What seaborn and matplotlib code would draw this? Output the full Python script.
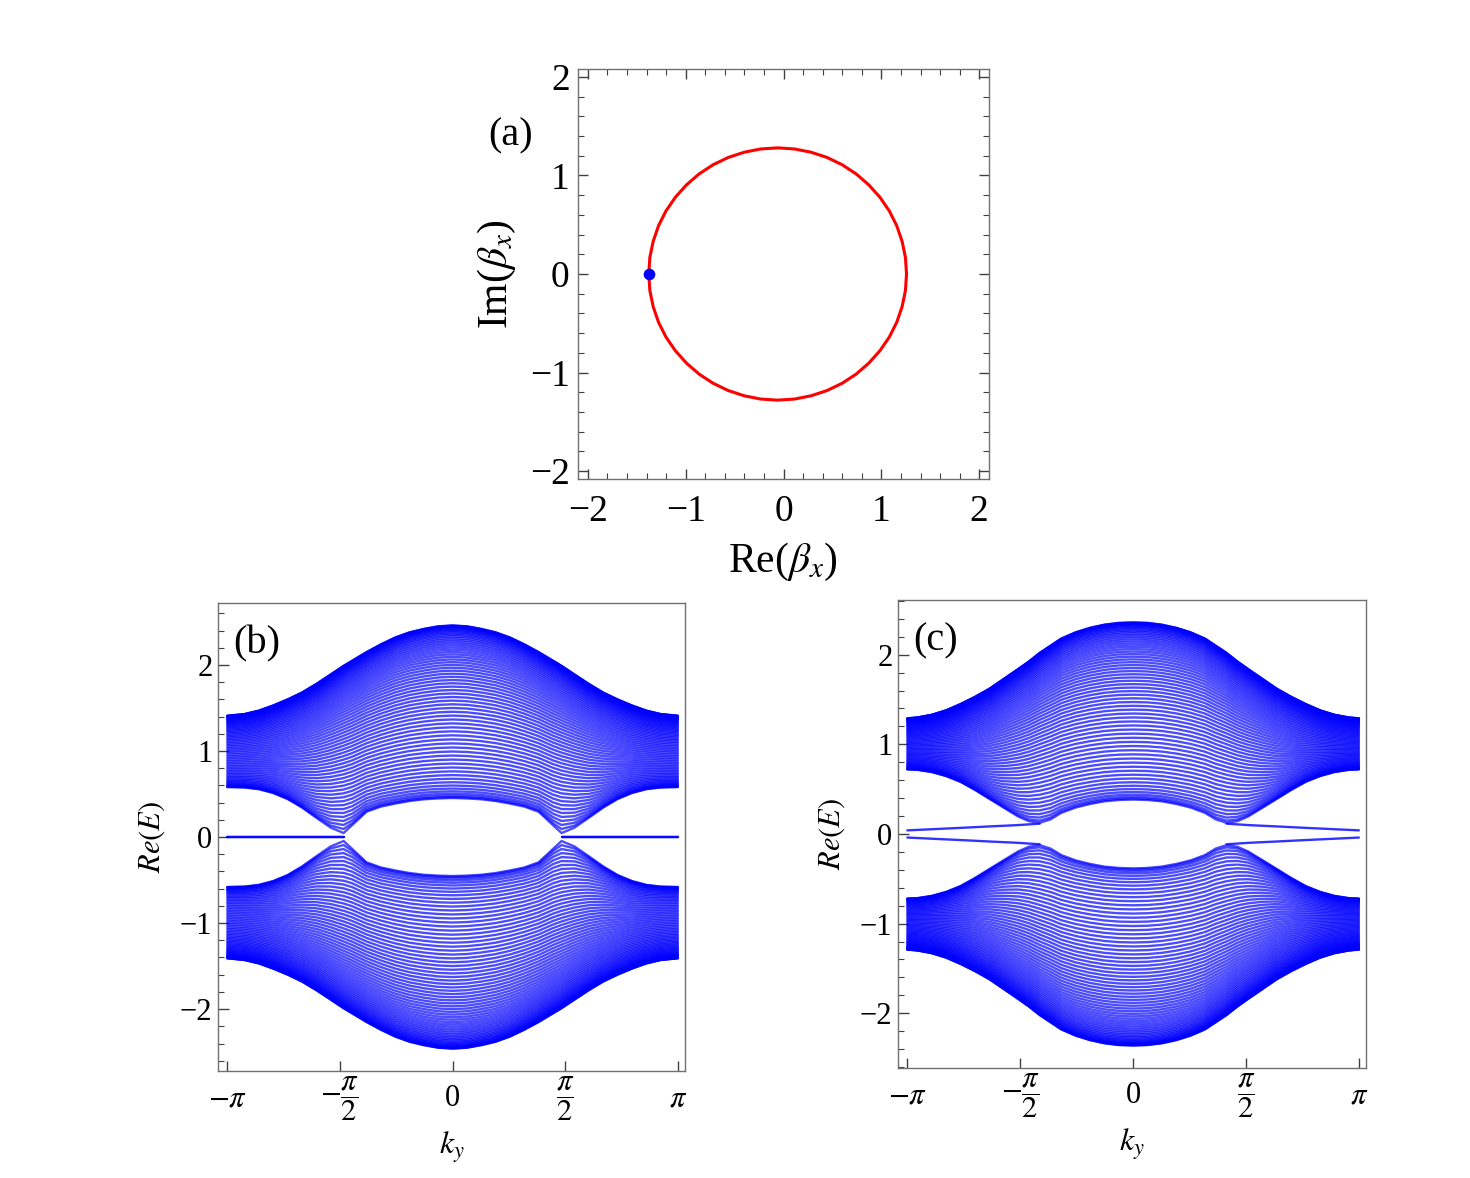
import numpy as np
import pandas as pd
from matplotlib import pyplot as plt
from matplotlib.ticker import MultipleLocator
import seaborn as sns

# ---- (a) GBZ curve (upper half, mirrored below)
gbz_re_half = [1.257, 1.246, 1.212, 1.157, 1.081, 0.985, 0.871, 0.742, 0.599, 0.444, 0.281, 0.112,
               -0.06, -0.232, -0.401, -0.564, -0.719, -0.862, -0.991, -1.105, -1.201, -1.277,
               -1.332, -1.366, -1.377]
gbz_im_half = [0.0, 0.167, 0.331, 0.490, 0.640, 0.779, 0.905, 1.016, 1.109, 1.183, 1.236, 1.269,
               1.28, 1.269, 1.236, 1.183, 1.109, 1.016, 0.905, 0.779, 0.640, 0.490,
               0.331, 0.167, 0.0]
dot_re = [-1.377]
dot_im = [0.0]

# ---- (b) band envelopes of the upper band for ky >= 0 (spectrum is symmetric)
ky_b = [0, 0.2, 0.4, 0.6, 0.8, 1.0, 1.2, 1.4, 1.52, 1.7, 1.9, 2.1, 2.3, 2.5, 2.7, 2.9, np.pi]
hi_b = [2.46, 2.45, 2.42, 2.38, 2.32, 2.24, 2.15, 2.05, 1.99, 1.89, 1.78, 1.68, 1.60, 1.53, 1.47, 1.43, 1.41]
lo_b = [0.45, 0.445, 0.435, 0.415, 0.385, 0.35, 0.29, 0.13, 0.0, 0.10, 0.22, 0.34, 0.44, 0.51, 0.555, 0.575, 0.58]
edge_ky_b = [1.52, np.pi]
edge_e_b = [0.0, 0.0]

# ---- (c)
ky_c = [0, 0.2, 0.4, 0.6, 0.8, 1.0, 1.15, 1.3, 1.45, 1.6, 1.8, 2.0, 2.2, 2.4, 2.6, 2.8, 3.0, np.pi]
hi_c = [2.36, 2.355, 2.335, 2.30, 2.25, 2.18, 2.10, 2.02, 1.925, 1.84, 1.73, 1.62, 1.53, 1.45, 1.38, 1.33, 1.30, 1.29]
lo_c = [0.38, 0.375, 0.36, 0.33, 0.29, 0.23, 0.155, 0.115, 0.135, 0.19, 0.29, 0.39, 0.49, 0.58, 0.645, 0.69, 0.715, 0.72]
edge_ky_c = [1.3, 1.6, 2.0, 2.4, 2.8, np.pi]
edge_e_c = [0.115, 0.099, 0.084, 0.068, 0.053, 0.04]

n_bands = 66

pi_ticks = [-np.pi, -np.pi / 2, 0, np.pi / 2, np.pi]
pi_labels = [r'$-\pi$', r'$-\dfrac{\pi}{2}$', '0', r'$\dfrac{\pi}{2}$', r'$\pi$']


def mirror(ky_half, vals):
    ky = np.concatenate([-np.array(ky_half[::-1]), np.array(ky_half[1:])])
    v = np.concatenate([np.array(vals[::-1]), np.array(vals[1:])])
    return ky, v


def band_frame(ky_half, hi_half, lo_half):
    ky, hi = mirror(ky_half, hi_half)
    _, lo = mirror(ky_half, lo_half)
    frames = []
    for n in range(1, n_bands + 1):
        # lines spread between the read envelopes like open-chain states
        w = np.cos(n * np.pi / (2 * (n_bands + 1))) ** 2
        e = np.sqrt(lo ** 2 + (hi ** 2 - lo ** 2) * w)
        for s in (1, -1):
            frames.append(pd.DataFrame({'ky': ky, 'E': s * e, 'band': f'{s}_{n}'}))
    return pd.concat(frames, ignore_index=True)


def edge_frame(ky_half, e_half):
    frames = []
    k = np.array(ky_half)
    e = np.array(e_half)
    for side in (1, -1):
        for s in (1, -1):
            frames.append(pd.DataFrame({'ky': side * k, 'E': s * e, 'band': f'{side}_{s}'}))
    return pd.concat(frames, ignore_index=True)


sns.set_style("ticks")
plt.rcParams['font.family'] = ['Liberation Serif', 'DejaVu Serif']
plt.rcParams['mathtext.fontset'] = 'stix'
plt.rcParams['text.color'] = 'black'
plt.rcParams['axes.labelcolor'] = 'black'

frame_col = '#707070'

fig = plt.figure(figsize=(14.7, 11.78), dpi=100)
ax_a = fig.add_axes([0.3932, 0.5934, 0.2796, 0.3480])
ax_b = fig.add_axes([0.1483, 0.0908, 0.3177, 0.3973])
ax_c = fig.add_axes([0.6109, 0.0934, 0.3184, 0.3973])

# ---------- (a)
gbz = pd.DataFrame({'re': gbz_re_half + gbz_re_half[::-1][1:],
                    'im': gbz_im_half + [-i for i in gbz_im_half[::-1][1:]]})
sns.lineplot(data=gbz, x='re', y='im', sort=False, estimator=None, color='#ff0000', lw=2.2, ax=ax_a)
sns.scatterplot(x=dot_re, y=dot_im, color='#0000ff', s=70, linewidth=0, zorder=5, ax=ax_a)
ax_a.set_xlim(-2.1, 2.1)
ax_a.set_ylim(-2.08, 2.08)
ax_a.xaxis.set_major_locator(MultipleLocator(1))
ax_a.yaxis.set_major_locator(MultipleLocator(1))
ax_a.xaxis.set_minor_locator(MultipleLocator(0.2))
ax_a.yaxis.set_minor_locator(MultipleLocator(0.2))
ax_a.tick_params(which='both', direction='in', top=True, right=True, color='#404040',
                 labelcolor='black', labelsize=27)
ax_a.tick_params(axis='x', pad=11)
ax_a.tick_params(axis='y', pad=6)
ax_a.tick_params(which='major', length=7, width=1)
ax_a.tick_params(which='minor', length=4, width=0.8)
ax_a.set_xlabel(r'Re($\beta_x$)', fontsize=30)
ax_a.set_ylabel(r'Im($\beta_x$)', fontsize=30)
ax_a.xaxis.set_label_coords(0.499, -0.15)
ax_a.yaxis.set_label_coords(-0.145, 0.5)
fig.text(0.347, 0.8846, '(a)', fontsize=29, ha='center', va='center')

# ---------- (b), (c)
for ax, ky_h, hi_h, lo_h, eky, ee, ylim, tag in [
        (ax_b, ky_b, hi_b, lo_b, edge_ky_b, edge_e_b, 2.72, '(b)'),
        (ax_c, ky_c, hi_c, lo_c, edge_ky_c, edge_e_c, 2.61, '(c)')]:
    bands = band_frame(ky_h, hi_h, lo_h)
    sns.lineplot(data=bands, x='ky', y='E', units='band', estimator=None, sort=False,
                 color='#0000ff', lw=1.7, alpha=0.7, ax=ax)
    edges = edge_frame(eky, ee)
    sns.lineplot(data=edges, x='ky', y='E', units='band', estimator=None, sort=False,
                 color='#0000ff', lw=1.7, alpha=0.8, ax=ax)
    ax.set_xlim(-np.pi - 0.13, np.pi + 0.10)
    ax.set_ylim(-ylim, ylim)
    ax.set_xticks(pi_ticks)
    ax.set_xticklabels(pi_labels)
    ax.yaxis.set_major_locator(MultipleLocator(1))
    ax.yaxis.set_minor_locator(MultipleLocator(0.2))
    ax.tick_params(which='both', direction='in', top=False, right=False, color='#404040',
                   labelcolor='black', labelsize=22)
    ax.tick_params(axis='y', which='major', length=8, width=1, pad=4)
    ax.tick_params(axis='y', which='minor', length=4, width=0.8)
    ax.tick_params(axis='x', which='major', length=7, width=1, pad=20)
    for lab in ax.get_xticklabels():
        lab.set_va('center')
    ax.set_xlabel(r'$k_y$', fontsize=23)
    ax.set_ylabel(r'$Re(E)$', fontsize=22)
    ax.xaxis.set_label_coords(0.5, -0.125)
    ax.yaxis.set_label_coords(-0.11, 0.5)
    ax.text(0.033, 0.912, tag, transform=ax.transAxes, fontsize=29, ha='left', va='center')

for ax in (ax_a, ax_b, ax_c):
    for sp in ax.spines.values():
        sp.set_color(frame_col)
        sp.set_linewidth(1.0)

fig.savefig('out.png', dpi=100)
